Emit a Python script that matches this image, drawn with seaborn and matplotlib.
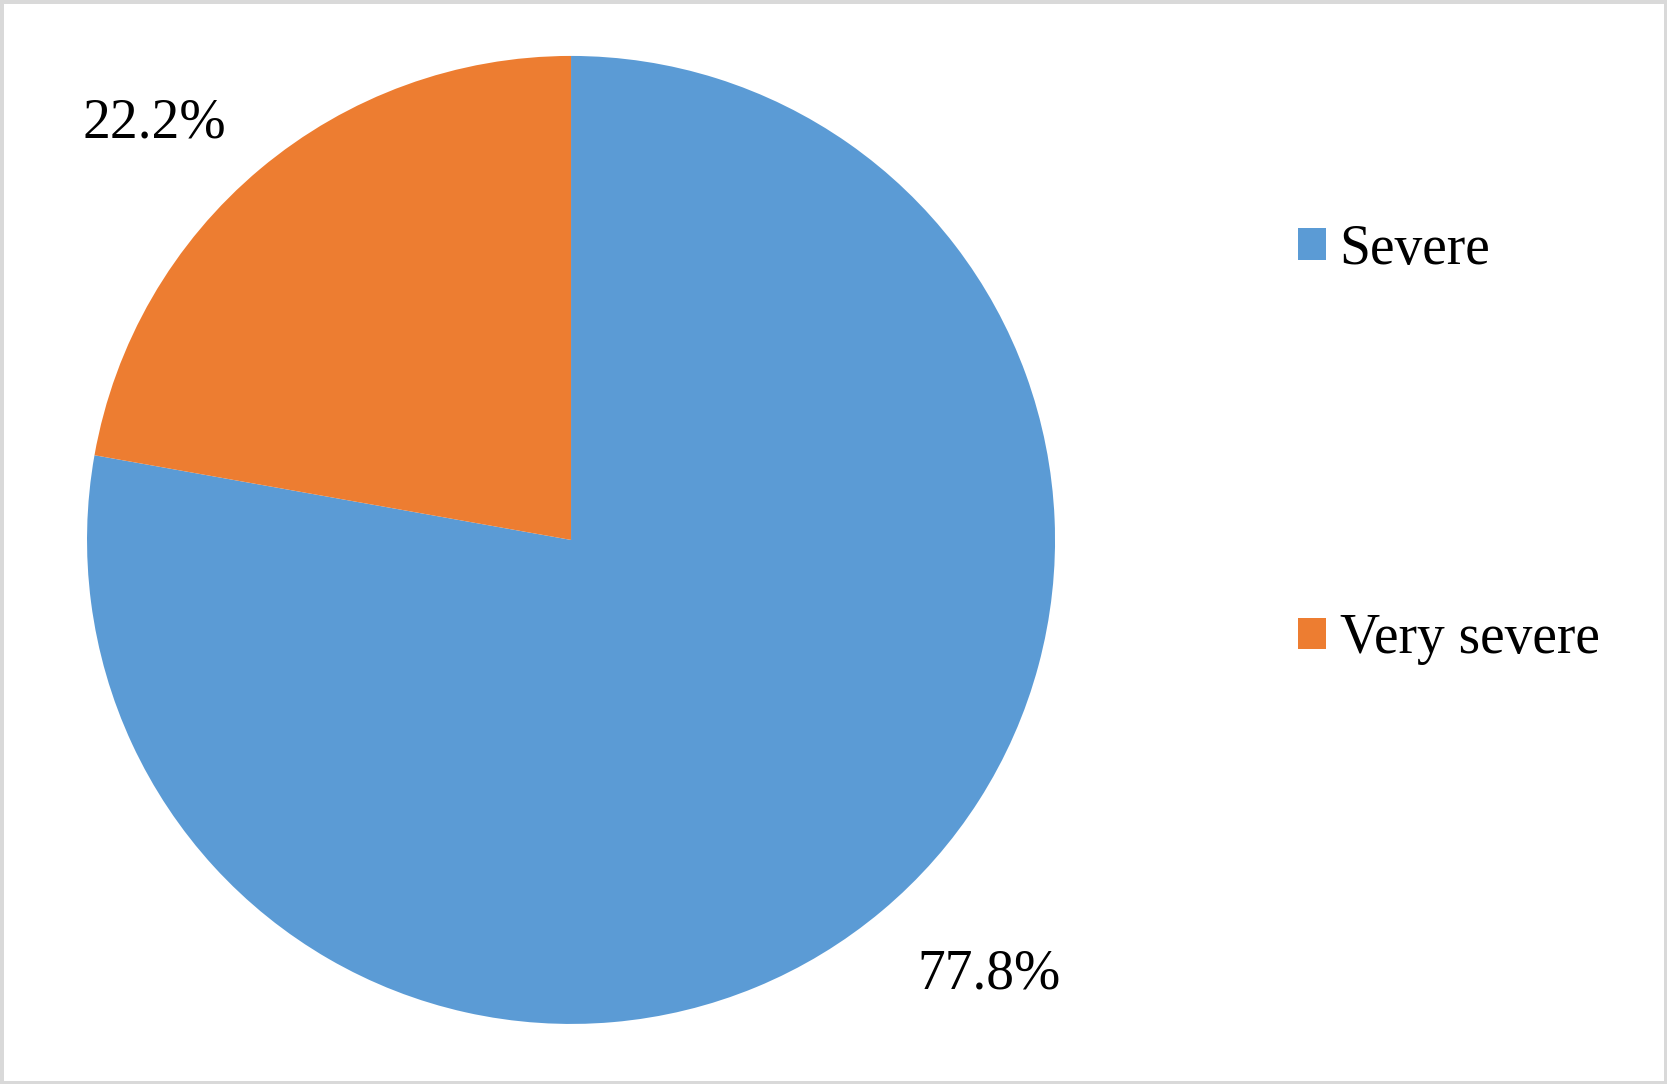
import matplotlib
matplotlib.use('Agg')
import matplotlib.pyplot as plt
from matplotlib.patches import Patch
import seaborn as sns

labels = ['Severe', 'Very severe']
shares = [77.8, 22.2]
colors = ['#5B9BD5', '#ED7D31']

sns.set_theme(style='white')
plt.rcParams['font.family'] = ['Liberation Serif', 'DejaVu Serif']
plt.rcParams['text.color'] = 'black'

fig = plt.figure(figsize=(16.67, 10.84), dpi=100)
fig.patch.set_facecolor('white')
fig.patch.set_edgecolor('#D9D9D9')
fig.patch.set_linewidth(5)

ax = fig.add_axes([0.0522, 0.0554, 0.5807, 0.893])
palette = sns.color_palette(colors)
wedges, texts, autotexts = ax.pie(
    shares,
    colors=palette,
    startangle=90,
    counterclock=False,
    autopct='%.1f%%',
    pctdistance=1.23,
    wedgeprops={'linewidth': 0},
    textprops={'fontsize': 40, 'color': 'black'})
ax.set_xlim(-1, 1)
ax.set_ylim(-1, 1)
ax.set_aspect('equal')

# Excel-style label placement
autotexts[0].set_position((0.863, -0.897))
autotexts[1].set_position((-0.862, 0.861))
for t in autotexts:
    t.set_ha('center')
    t.set_va('center')

handles = [Patch(facecolor=c, edgecolor='none') for c in palette]
fig.legend(
    handles, labels,
    loc='upper left',
    bbox_to_anchor=(1298 / 1667, 1 - 224 / 1084),
    frameon=False,
    fontsize=40,
    labelcolor='black',
    handlelength=0.5,
    handleheight=0.5,
    handletextpad=0.25,
    labelspacing=6.07,
    borderpad=0,
    borderaxespad=0)

fig.savefig('out.png', dpi=100)
